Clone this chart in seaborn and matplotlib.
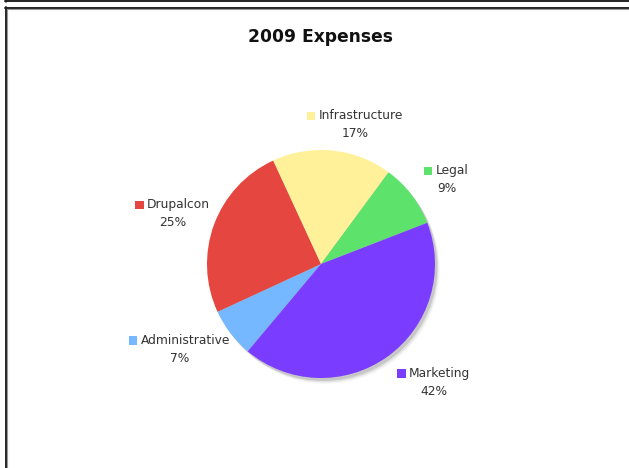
import matplotlib
matplotlib.use("Agg")
import matplotlib.pyplot as plt
import seaborn as sns
from matplotlib.patches import Circle, Rectangle
from matplotlib.lines import Line2D
from matplotlib.offsetbox import (AnnotationBbox, DrawingArea, HPacker,
                                  TextArea, VPacker)

# Expense categories and their shares (percent)
categories = ["Administrative", "Drupalcon", "Infrastructure", "Legal", "Marketing"]
shares = [7, 25, 17, 9, 42]
colors = ["#75B8FF", "#E5463F", "#FFF199", "#5DE26C", "#7A3CFF"]

# label block centres, in units of the pie radius
label_xy = {
    "Administrative": (-1.24, -0.75),
    "Drupalcon": (-1.30, 0.44),
    "Infrastructure": (0.30, 1.22),
    "Legal": (1.10, 0.74),
    "Marketing": (0.99, -1.04),
}

sns.set_theme(style="white")
plt.rcParams["font.family"] = ["DejaVu Sans"]

W, H = 629, 468
fig = plt.figure(figsize=(W / 100, H / 100), dpi=100)
fig.patch.set_facecolor("white")

# page frame lines
def hline(y, x0, x1, color, lw):
    fig.add_artist(Line2D([x0 / W, x1 / W], [1 - y / H, 1 - y / H],
                          color=color, lw=lw, transform=fig.transFigure))

def vline(x, y0, y1, color, lw):
    fig.add_artist(Line2D([x / W, x / W], [1 - y0 / H, 1 - y1 / H],
                          color=color, lw=lw, transform=fig.transFigure))

hline(1.0, 5, W, "#222222", 1.4)
vline(5.5, 0, 2, "#222222", 1.2)
hline(7.5, 5, W, "#222222", 1.4)
hline(9.3, 7, W, "#9a9a9a", 0.8)
vline(5.5, 7, H, "#222222", 1.4)
vline(7.3, 9, H, "#9a9a9a", 0.8)

fig.text(320 / W, 1 - 37 / H, "2009 Expenses", ha="center", va="center",
         fontsize=12.3, fontweight="bold", color="#111111")

cx, cy, r = 321, 264, 114
half = r * 1.6
ax = fig.add_axes([(cx - half) / W, (H - cy - half) / H, 2 * half / W, 2 * half / H])

# soft drop shadow behind the pie
for off, a in [(0.05, 0.08), (0.038, 0.15), (0.026, 0.28)]:
    ax.add_patch(Circle((off * 0.8, -off), 1.0, facecolor="#808080",
                        edgecolor="none", alpha=a, zorder=0))

wedges, _ = ax.pie(shares, colors=colors, startangle=230, counterclock=False,
                   radius=1.0, wedgeprops=dict(linewidth=0), normalize=True)
for w in wedges:
    w.set_zorder(2)
ax.set_xlim(-1.6, 1.6)
ax.set_ylim(-1.6, 1.6)
ax.set_aspect("equal")
ax.axis("off")

total = sum(shares)
for name, val, col in zip(categories, shares, colors):
    da = DrawingArea(6, 6, 0, 0)
    da.add_artist(Rectangle((0, 0), 6, 6, facecolor=col, edgecolor="none"))
    name_box = TextArea(name, textprops=dict(fontsize=8.8, color="#333333"))
    top = HPacker(children=[da, name_box], align="center", pad=0, sep=2.5)
    pct = TextArea(f"{round(100 * val / total)}%",
                   textprops=dict(fontsize=8.8, color="#333333"))
    block = VPacker(children=[top, pct], align="center", pad=0, sep=3.5)
    ab = AnnotationBbox(block, label_xy[name], xycoords="data", frameon=False,
                        box_alignment=(0.5, 0.5), annotation_clip=False)
    ab.set_zorder(5)
    ax.add_artist(ab)

fig.savefig("out.png", dpi=100, facecolor="white")
